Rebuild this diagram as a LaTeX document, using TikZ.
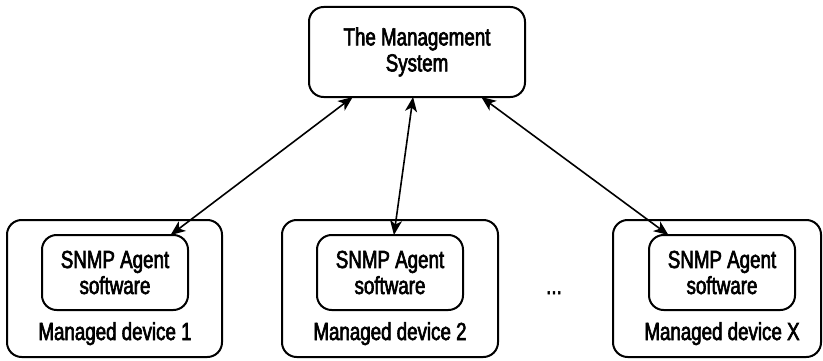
\documentclass[tikz,border=0pt]{standalone}
\usepackage{fontspec}
\setmainfont{Liberation Sans}[FakeStretch=0.76,FakeBold=2.5]
\usepackage{tikz}
\usetikzlibrary{arrows.meta}

\tikzset{
    box/.style={draw, line width=1.5pt, rounded corners=11pt, outer sep=0pt, inner sep=0pt, align=center},
    link/.style={line width=1.2pt, {Stealth[length=11pt,width=9pt,inset=3pt]}-{Stealth[length=11pt,width=9pt,inset=3pt]}}
}

\begin{document}
\begin{tikzpicture}[x=0.75pt, y=-0.75pt, font=\fontsize{18.5}{19.5}\selectfont]
    % Canvas
    \useasboundingbox (0,0) rectangle (823,360);

    % Management system
    \node[box, minimum width=162pt, minimum height=67.5pt] (mgmt) at (417,52) {The Management\\System};

    % Managed devices with their agents
    \foreach \i/\dx/\ax/\w/\lab in {1/114.5/115/161.25/1, 2/390/390/162/2, x/717/722/156/X} {
        \node[box, minimum width=\w pt, minimum height=102.75pt] (dev\i) at (\dx,288.5) {};
        \node[box, minimum width=109.5pt, minimum height=56.25pt] (agent\i) at (\ax,272.5) {SNMP Agent\\software};
        \node[anchor=base] (lab\i) at (\ax,340) {Managed device \lab};
    }

    % Dots between device 2 and device X
    \node[anchor=base] (dots) at (554,294) {...};

    % Links to the agents
    \draw[link] (mgmt.215) -- (agent1.34);
    \draw[link] (mgmt.265) -- (agent2.84);
    \draw[link] (mgmt.325) -- (agentx.145);

\end{tikzpicture}
\end{document}
